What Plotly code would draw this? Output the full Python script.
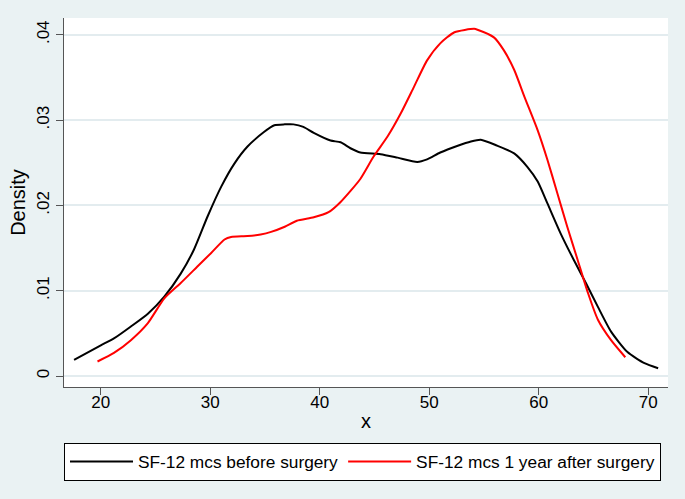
import plotly.graph_objects as go

# Kernel density: SF-12 mcs before surgery
before_x = [17.56, 20.0, 21.2, 22.75, 24.3, 25.8, 27.3, 28.5, 29.75, 31.0, 32.2, 33.4, 34.9, 35.85,
            36.8, 37.6, 38.5, 39.45, 40.98, 41.9, 42.8, 43.7, 45.55, 47.1, 48.9, 49.8, 51.0, 52.6,
            53.8, 54.7, 56.2, 57.75, 58.97, 59.9, 60.8, 62.0, 63.2, 64.3, 65.4, 66.6, 68.1, 69.65, 70.9]
before_y = [0.0019, 0.0036, 0.0044, 0.0058, 0.0073, 0.0093, 0.0120, 0.0148, 0.0187, 0.0222, 0.0249,
            0.0269, 0.0286, 0.0294, 0.0295, 0.0295, 0.0292, 0.0285, 0.0276, 0.0274, 0.0267, 0.0262,
            0.0260, 0.0256, 0.0251, 0.0254, 0.0262, 0.0270, 0.0275, 0.0277, 0.0270, 0.0261, 0.0245,
            0.0228, 0.0202, 0.0167, 0.0136, 0.0109, 0.0081, 0.0052, 0.0028, 0.0015, 0.0009]

# Kernel density: SF-12 mcs 1 year after surgery
after_x = [19.7, 21.2, 22.75, 24.3, 25.8, 27.3, 28.8, 30.06, 31.3, 31.9, 33.4, 34.6, 35.55, 36.8,
           37.9, 39.45, 40.8, 41.9, 43.7, 44.9, 46.2, 47.4, 48.6, 49.8, 51.0, 52.3, 54.1, 54.4,
           55.9, 56.8, 57.75, 58.7, 59.9, 60.8, 61.7, 62.6, 63.55, 64.5, 65.4, 66.6, 67.9]
after_y = [0.0017, 0.0027, 0.0042, 0.0062, 0.0091, 0.0109, 0.0128, 0.0144, 0.0160, 0.0163, 0.0164,
           0.0166, 0.0169, 0.0175, 0.0182, 0.0186, 0.0192, 0.0204, 0.0231, 0.0257, 0.0281, 0.0308,
           0.0339, 0.0370, 0.0390, 0.0403, 0.0407, 0.0406, 0.0397, 0.0382, 0.0359, 0.0327, 0.0288,
           0.0253, 0.0214, 0.0175, 0.0136, 0.0097, 0.0066, 0.0042, 0.0022]

x_ticks = [20, 30, 40, 50, 60, 70]
y_ticks = [0, 0.01, 0.02, 0.03, 0.04]
y_tick_labels = ["0", ".01", ".02", ".03", ".04"]

FONT = "Liberation Sans, Arial, sans-serif"

fig = go.Figure()
fig.add_trace(go.Scatter(x=before_x, y=before_y, mode="lines",
                         line=dict(color="#000000", width=2, shape="spline", smoothing=0.6),
                         name="SF-12 mcs before surgery"))
fig.add_trace(go.Scatter(x=after_x, y=after_y, mode="lines",
                         line=dict(color="#FF0000", width=2, shape="spline", smoothing=0.6),
                         name="SF-12 mcs 1 year after surgery"))

fig.update_layout(
    width=685, height=499,
    margin=dict(l=64, r=17, t=18, b=112),
    paper_bgcolor="#EAF2F3",
    plot_bgcolor="#FFFFFF",
    font=dict(family=FONT, size=17, color="#000000"),
    showlegend=True,
    legend=dict(orientation="h", x=0, xanchor="left", y=-0.151, yanchor="top",
                bgcolor="#FFFFFF", bordercolor="#000000", borderwidth=1,
                font=dict(size=17.3), itemwidth=63, tracegroupgap=0),
    xaxis=dict(range=[16.64, 71.8], tickvals=x_ticks, ticks="outside", ticklen=7, tickcolor="#555555",
               showline=True, linecolor="#555555", linewidth=1, showgrid=False, zeroline=False,
               automargin=False, ticklabelstandoff=-7,
               title=dict(text="x", standoff=2), tickfont=dict(size=17)),
    yaxis=dict(range=[-0.00129, 0.04197], tickvals=y_ticks, ticktext=y_tick_labels, tickangle=-90,
               ticks="outside", ticklen=7, tickcolor="#555555", automargin=False,
               showline=True, linecolor="#555555", linewidth=1, showgrid=True, gridcolor="#E3ECEF",
               gridwidth=1.5, zeroline=False, title=dict(text="Density", standoff=3), tickfont=dict(size=17)),
)

fig.write_html("out.html", config={"displayModeBar": False},
               post_script="document.body.style.margin='0';document.body.style.overflow='hidden';")
